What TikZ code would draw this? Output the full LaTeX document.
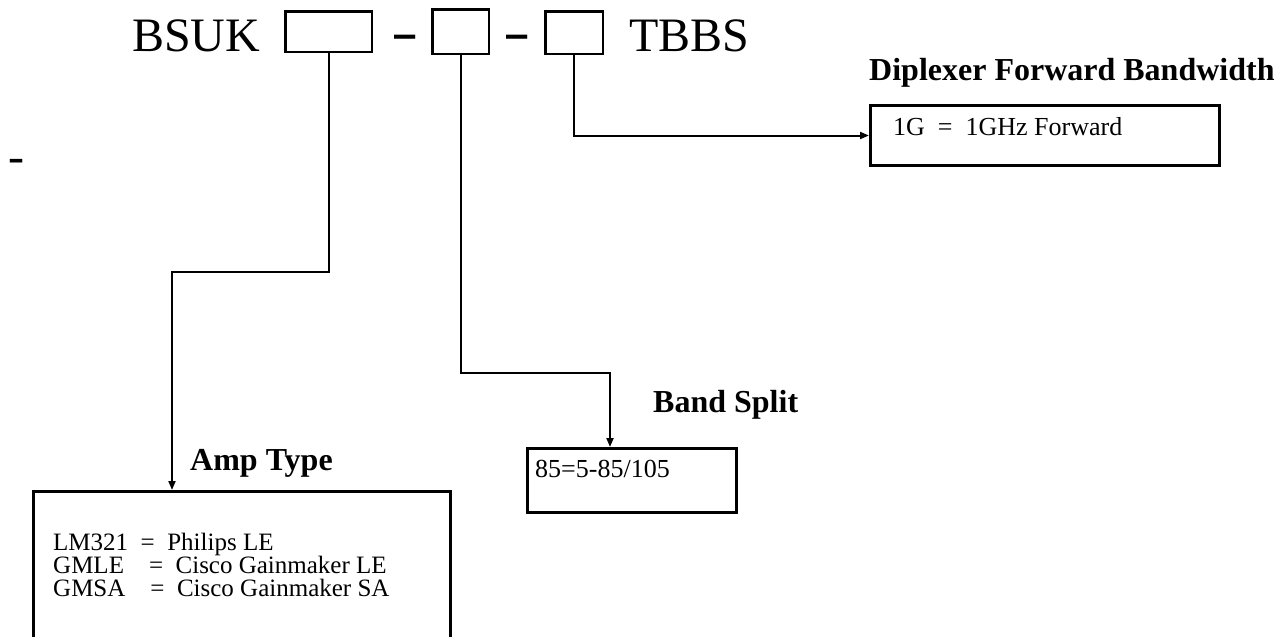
\documentclass[tikz,border=0pt]{standalone}
\usepackage{fontspec}
\setmainfont{Liberation Serif}
\usetikzlibrary{arrows.meta}

\begin{document}
\begin{tikzpicture}[x=1pt, y=-1pt, >={Triangle[length=9pt,width=7pt]},
  slot/.style={draw, line width=2.5pt, inner sep=0pt, anchor=north west},
  optbox/.style={draw, line width=3pt, inner sep=0pt, anchor=north west},
  head/.style={anchor=base west, inner sep=0pt,
    font=\bfseries\fontsize{32}{38}\selectfont},
  entry/.style={anchor=base west, inner sep=0pt,
    font=\fontsize{26}{23}\selectfont},
  small/.style={anchor=base west, inner sep=0pt,
    font=\fontsize{25}{23}\selectfont},
  big/.style={anchor=base west, inner sep=0pt,
    font=\fontsize{48}{58}\selectfont},
  sep/.style={anchor=base, inner sep=0pt,
    font=\bfseries\fontsize{48}{58}\selectfont},
  link/.style={->, line width=2pt}]
  \useasboundingbox (0,0) rectangle (1288,637);
  % part number
  \node[big] (bsuk) at (132,51) {BSUK};
  \node[slot, minimum width=86.5pt, minimum height=40.5pt] (b1) at (284,10) {};
  \node[sep] (d1) at (405,48) {\scalebox{1.7}[1]{-}};
  \node[slot, minimum width=56.5pt, minimum height=44.5pt] (b2) at (431,8) {};
  \node[sep] (d2) at (517,48) {\scalebox{1.7}[1]{-}};
  \node[slot, minimum width=57.5pt, minimum height=42.5pt] (b3) at (544,10) {};
  \node[big] (tbbs) at (629,51) {TBBS};
  \node[anchor=base, inner sep=0pt, font=\fontsize{48}{58}\selectfont] (stray) at (16,172) {-};
  % option boxes
  \node[head] (diphd) at (869,80) {Diplexer Forward Bandwidth};
  \node[optbox, minimum width=349pt, minimum height=60pt] (dip) at (869,104) {};
  \node[entry] (dip1) at (893,135) {1G~~=~~1GHz Forward};
  \node[head] (bandhd) at (653,412) {Band Split};
  \node[optbox, minimum width=209pt, minimum height=64pt] (band) at (526,447) {};
  \node[entry] (band1) at (535,477) {85=5-85/105};
  \node[head] (amphd) at (190,470) {Amp Type};
  \begin{scope}
    \clip (0,0) rectangle (1288,637);
    \node[optbox, minimum width=417pt, minimum height=200pt] (amp) at (32,490) {};
  \end{scope}
  \node[small] (amp1) at (53,550) {LM321~~=~~Philips LE};
  \node[small] (amp2) at (53,573) {GMLE~~~~=~~Cisco Gainmaker LE};
  \node[small] (amp3) at (53,596) {GMSA~~~~=~~Cisco Gainmaker SA};
  % leaders
  \coordinate (k1) at (172,272);
  \coordinate (k2) at (610,373);
  \draw[link] (b1.south) |- (k1) -- (k1 |- amp.north);
  \draw[link] (b2.south) |- (k2) -- (k2 |- band.north);
  \draw[link] (b3.south) |- (dip.west);
\end{tikzpicture}
\end{document}
